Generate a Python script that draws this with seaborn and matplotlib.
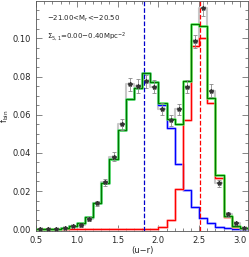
import numpy as np
import pandas as pd
import matplotlib
matplotlib.use('Agg')
import matplotlib.pyplot as plt
import seaborn as sns

# bins in (u-r), width 0.1
edges = [round(0.5 + 0.1 * i, 2) for i in range(27)]
centers = [round(e + 0.05, 3) for e in edges[:-1]]

# blue (model) component per bin
blue = [0.0, 0.0, 0.0001, 0.0005, 0.0016, 0.003, 0.0064, 0.0135, 0.024, 0.037,
        0.052, 0.068, 0.074, 0.082, 0.077, 0.065, 0.053, 0.034, 0.0205, 0.0115,
        0.006, 0.003, 0.0012, 0.0004, 0.0002, 0.0001]
# red (model) component per bin
red = [0.0, 0.0, 0.0, 0.0, 0.0, 0.0, 0.0, 0.0, 0.0, 0.0,
       0.0, 0.0, 0.0, 0.0, 0.0, 0.001, 0.0047, 0.021, 0.057, 0.096,
       0.1005, 0.066, 0.027, 0.0065, 0.0013, 0.0004]
# observed fraction and errors
data = [0.0003, 0.0003, 0.0003, 0.0006, 0.0016, 0.002, 0.0053, 0.0135, 0.0245, 0.038,
        0.055, 0.076, 0.075, 0.0775, 0.0747, 0.063, 0.057, 0.0628, 0.0748, 0.0985,
        0.116, 0.0727, 0.024, 0.0077, 0.003, 0.0007]
err = [0.0004, 0.0004, 0.0004, 0.0005, 0.0007, 0.0008, 0.001, 0.0015, 0.002, 0.0025,
       0.003, 0.0035, 0.0035, 0.0035, 0.0035, 0.003, 0.003, 0.003, 0.0035, 0.0035,
       0.004, 0.0035, 0.002, 0.0012, 0.0008, 0.0005]
total = list(np.array(blue) + np.array(red))

blue_peak = 1.83
red_peak = 2.505

sns.set_style('ticks')
plt.rcParams['font.family'] = ['DejaVu Sans']

fig = plt.figure(figsize=(2.49, 2.57), dpi=100)
ax = fig.add_axes([0.145, 0.101, 0.851, 0.894])

def step(vals, color, lw):
    df = pd.DataFrame({'x': centers, 'w': vals})
    sns.histplot(data=df, x='x', weights='w', bins=edges, element='step', fill=False,
                 color=color, linewidth=lw, ax=ax)

# data histogram (grey)
step(data, '#c8c8c8', 1.5)
# components, thick pale under thin solid
step(blue, '#9999ff', 1.8)
step(blue, '#0000ff', 0.8)
step(red, '#ff9999', 1.8)
step(red, '#ff0000', 0.8)
step(total, '#55ee55', 1.8)
step(total, '#007700', 0.8)

ax.errorbar(centers, data, yerr=err, xerr=0.02, fmt='none', ecolor='#888888',
            elinewidth=0.6, capsize=1.5, capthick=0.6)
ax.plot(centers, data, linestyle='none', marker='*', color='#333333', markersize=3)

ax.axvline(blue_peak, color='#0000cc', linestyle='--', linewidth=0.9)
ax.axvline(red_peak, color='#ff0000', linestyle='--', linewidth=0.9)

ax.set_xlim(0.5, 3.1)
ax.set_ylim(-0.001, 0.1195)
ax.set_xticks([0.5, 1.0, 1.5, 2.0, 2.5, 3.0])
ax.set_xticks(np.arange(0.5, 3.1, 0.1), minor=True)
ax.set_yticks([0.0, 0.02, 0.04, 0.06, 0.08, 0.10])
ax.set_yticks(np.arange(0.0, 0.12, 0.005), minor=True)
ax.xaxis.set_major_formatter(matplotlib.ticker.FormatStrFormatter('%.1f'))
ax.yaxis.set_major_formatter(matplotlib.ticker.FormatStrFormatter('%.2f'))
ax.tick_params(which='both', direction='in', top=True, right=True, labelsize=6,
               color='#555555', width=0.5)
ax.tick_params(which='major', length=4)
ax.tick_params(which='minor', length=2)
for s in ax.spines.values():
    s.set_linewidth(0.6)
    s.set_color('#555555')

ax.set_xlabel('(u\u2212r)', fontsize=6, labelpad=1)
ax.set_ylabel('f$_{\\rm bin}$', fontsize=6, labelpad=1)

ax.text(0.05, 0.915, '\u221221.00<M$_{\\rm r}$<\u221220.50', transform=ax.transAxes,
        fontsize=5)
ax.text(0.05, 0.835, '\u03a3$_{5,1}$=0.00\u22120.40Mpc$^{-2}$', transform=ax.transAxes,
        fontsize=5)

fig.savefig('out.png', dpi=100)
